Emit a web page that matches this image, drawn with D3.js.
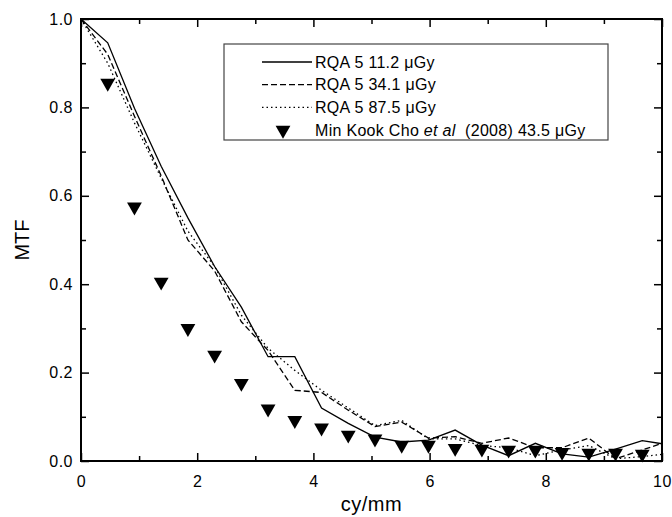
<!DOCTYPE html>
<html>
<head>
<meta charset="utf-8">
<script src="https://cdnjs.cloudflare.com/ajax/libs/d3/7.8.5/d3.min.js"></script>
<style>
  body { margin: 0; background: #fff; }
  text { font-family: Arial, "Liberation Sans", sans-serif; fill: #000; }
</style>
</head>
<body>
<div id="chart"></div>
<script>
var width = 672;
var height = 517;
var margin = {top: 19, left: 81, right: 10, bottom: 56};

// frequencies (cy/mm)
var freq = [0, 0.46, 0.92, 1.38, 1.84, 2.3, 2.76, 3.22, 3.68, 4.14, 4.6, 5.06, 5.52,
            5.98, 6.44, 6.9, 7.36, 7.82, 8.28, 8.74, 9.2, 9.66, 10];
var mtf112 = [1.0, 0.946, 0.798, 0.667, 0.55, 0.44, 0.348, 0.236, 0.236, 0.12, 0.085, 0.054, 0.043,
              0.047, 0.07, 0.036, 0.012, 0.04, 0.016, 0.009, 0.027, 0.046, 0.039];
var mtf341 = [1.0, 0.92, 0.78, 0.645, 0.5, 0.43, 0.315, 0.25, 0.16, 0.155, 0.115, 0.078, 0.088,
              0.052, 0.055, 0.04, 0.052, 0.03, 0.03, 0.052, 0.005, 0.025, 0.04];
var mtf875 = [1.0, 0.9, 0.765, 0.64, 0.52, 0.44, 0.33, 0.255, 0.205, 0.16, 0.12, 0.08, 0.092,
              0.05, 0.05, 0.035, 0.03, 0.012, 0.025, 0.035, 0.005, 0.01, 0.015];
var choFreq = [0.46, 0.92, 1.38, 1.84, 2.3, 2.76, 3.22, 3.68, 4.14, 4.6, 5.06, 5.52,
               5.98, 6.44, 6.9, 7.36, 7.82, 8.28, 8.74, 9.2, 9.66];
var choMtf = [0.855, 0.575, 0.405, 0.30, 0.24, 0.176, 0.118, 0.092, 0.075, 0.059, 0.05, 0.036,
              0.036, 0.029, 0.027, 0.025, 0.025, 0.02, 0.018, 0.018, 0.016];

var legendLabels = ["RQA 5 11.2 ", "RQA 5 34.1 ", "RQA 5 87.5 "];
var dashes = ["none", "6,3", "1.5,3"];

var svg = d3.select("#chart")
  .append("svg")
  .attr("width", width)
  .attr("height", height);

var xScale = d3.scaleLinear()
  .domain([0, 10])
  .range([margin.left, width - margin.right]);
var yScale = d3.scaleLinear()
  .domain([0, 1])
  .range([height - margin.bottom, margin.top]);

var x0 = xScale(0), x1 = xScale(10), y0 = yScale(0), y1 = yScale(1);

// axes, all ticks pointing inward
function styleAxis(g) {
  g.select(".domain").remove();
  g.selectAll("line").attr("stroke", "#000").attr("stroke-width", 1.5);
  g.selectAll("text").style("font-size", "16px").style("letter-spacing", "0.5px")
    .style("font-family", "Arial, 'Liberation Sans', sans-serif");
}
var xMajor = [0, 2, 4, 6, 8, 10], xMinor = [1, 3, 5, 7, 9];
var yMajor = [0, 0.2, 0.4, 0.6, 0.8, 1.0], yMinor = [0.1, 0.3, 0.5, 0.7, 0.9];

svg.append("g").attr("transform", `translate(0,${y0})`)
  .call(d3.axisBottom(xScale).tickValues(xMajor).tickSize(-8).tickPadding(15).tickFormat(d3.format("d")))
  .call(styleAxis);
svg.append("g").attr("transform", `translate(0,${y0})`)
  .call(d3.axisBottom(xScale).tickValues(xMinor).tickSize(-5).tickFormat(""))
  .call(styleAxis);
svg.append("g").attr("transform", `translate(0,${y1})`)
  .call(d3.axisTop(xScale).tickValues(xMajor).tickSize(-8).tickFormat(""))
  .call(styleAxis);
svg.append("g").attr("transform", `translate(0,${y1})`)
  .call(d3.axisTop(xScale).tickValues(xMinor).tickSize(-5).tickFormat(""))
  .call(styleAxis);
svg.append("g").attr("transform", `translate(${x0},0)`)
  .call(d3.axisLeft(yScale).tickValues(yMajor).tickSize(-8).tickPadding(8).tickFormat(d3.format(".1f")))
  .call(styleAxis);
svg.append("g").attr("transform", `translate(${x0},0)`)
  .call(d3.axisLeft(yScale).tickValues(yMinor).tickSize(-5).tickFormat(""))
  .call(styleAxis);
svg.append("g").attr("transform", `translate(${x1},0)`)
  .call(d3.axisRight(yScale).tickValues(yMajor).tickSize(-8).tickFormat(""))
  .call(styleAxis);
svg.append("g").attr("transform", `translate(${x1},0)`)
  .call(d3.axisRight(yScale).tickValues(yMinor).tickSize(-5).tickFormat(""))
  .call(styleAxis);

// frame
svg.append("rect")
  .attr("x", x0).attr("y", y1)
  .attr("width", x1 - x0).attr("height", y0 - y1)
  .attr("fill", "none").attr("stroke", "#000").attr("stroke-width", 2);

// lines
var line = d3.line()
  .x(function(d){ return xScale(d[0]); })
  .y(function(d){ return yScale(d[1]); });

[mtf112, mtf341, mtf875].forEach(function(series, i) {
  svg.append("path")
    .datum(freq.map(function(f, j){ return [f, series[j]]; }))
    .attr("d", line)
    .attr("fill", "none")
    .attr("stroke", "#000")
    .attr("stroke-width", 1.3)
    .attr("stroke-dasharray", dashes[i]);
});

// triangles
var tri = d3.symbol().type(d3.symbolTriangle).size(95);
svg.selectAll("path.cho")
  .data(choFreq.map(function(f, j){ return [f, choMtf[j]]; }))
  .enter()
  .append("path")
    .attr("class", "cho")
    .attr("d", tri)
    .attr("transform", function(d){
      return `translate(${xScale(d[0])},${yScale(d[1])}) rotate(180)`;
    })
    .attr("fill", "#000");

// legend
var legend = svg.append("g");
legend.append("rect")
  .attr("x", 224).attr("y", 44)
  .attr("width", 384).attr("height", 96)
  .attr("fill", "#fff").attr("stroke", "#444").attr("stroke-width", 1.2);

legendLabels.forEach(function(lab, i) {
  var yy = 62 + i * 22.7;
  legend.append("line")
    .attr("x1", 262).attr("x2", 312)
    .attr("y1", yy).attr("y2", yy)
    .attr("stroke", "#000").attr("stroke-width", 1.3)
    .attr("stroke-dasharray", dashes[i]);
  var t = legend.append("text")
    .attr("x", 315).attr("y", yy + 5.5)
    .style("font-size", "16px").style("letter-spacing", "0.3px");
  t.append("tspan").text(lab);
  t.append("tspan").text("\u03bcGy");
});
var yy4 = 62 + 3 * 22.7;
legend.append("path")
  .attr("d", tri)
  .attr("transform", `translate(283,${yy4}) rotate(180)`)
  .attr("fill", "#000");
var t4 = legend.append("text")
  .attr("x", 315).attr("y", yy4 + 5.5)
  .style("font-size", "16px").style("letter-spacing", "0.3px")
  .style("white-space", "pre");
t4.append("tspan").text("Min Kook Cho ");
t4.append("tspan").style("font-style", "italic").text("et al");
t4.append("tspan").text("  (2008) 43.5 \u03bcGy");

// axis titles
svg.append("text")
  .attr("x", (x0 + x1) / 2)
  .attr("y", 511)
  .attr("text-anchor", "middle")
  .style("font-size", "20px")
  .style("letter-spacing", "0.5px")
  .text("cy/mm");

svg.append("text")
  .attr("transform", "rotate(-90)")
  .attr("x", -240)
  .attr("y", 29)
  .attr("text-anchor", "middle")
  .style("font-size", "20px")
  .text("MTF");
</script>
</body>
</html>
